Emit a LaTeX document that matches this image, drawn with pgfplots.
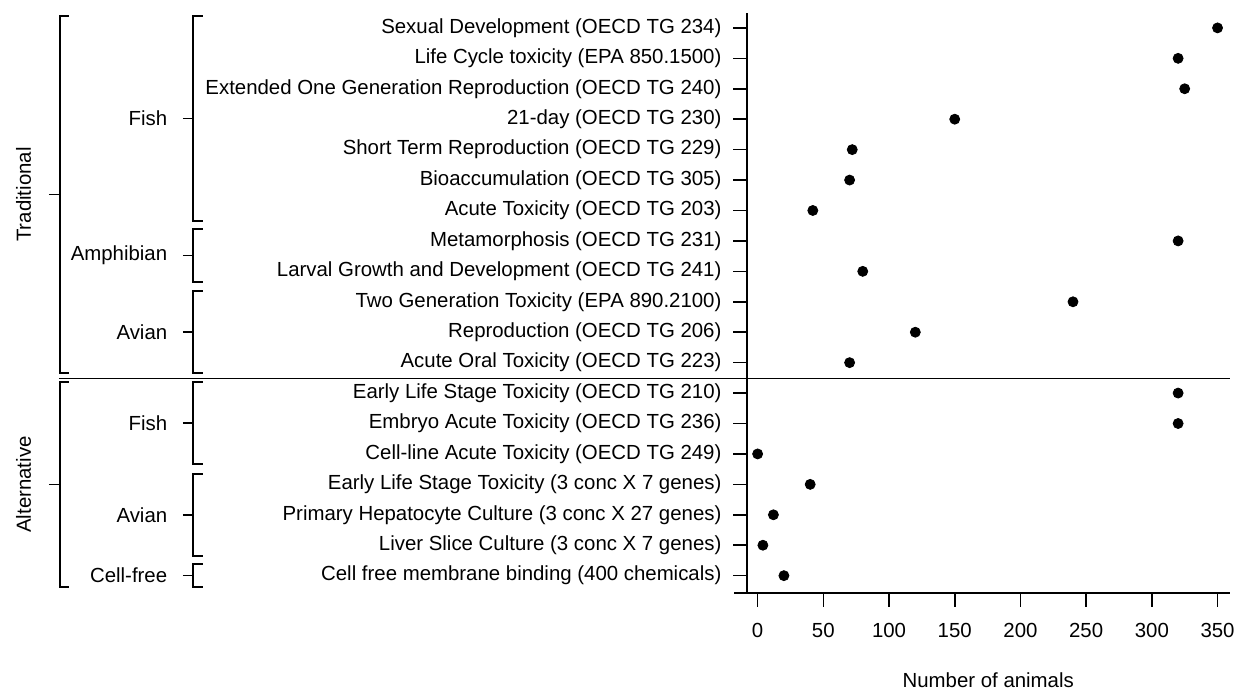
\documentclass[border=0pt]{standalone}
\usepackage{fontspec}
\setmainfont{Liberation Sans}
\usepackage{pgfplots}
\pgfplotsset{compat=1.18}
\begin{document}
\begin{tikzpicture}
\begin{axis}[
 scale only axis, width=241.25pt, height=290pt,
 xmin=-8.1, xmax=359.1, ymin=0.43, ymax=19.49,
 axis x line*=bottom, axis y line*=left,
 axis line style={line width=0.8pt, black},
 xtick={0,50,...,350}, ytick={1,...,19},
 yticklabels={Cell free membrane binding (400 chemicals),
 Liver Slice Culture (3 conc X 7 genes),
 Primary Hepatocyte Culture (3 conc X 27 genes),
 Early Life Stage Toxicity (3 conc X 7 genes),
 Cell-line Acute Toxicity (OECD TG 249),
 Embryo Acute Toxicity (OECD TG 236),
 Early Life Stage Toxicity (OECD TG 210),
 Acute Oral Toxicity (OECD TG 223),
 Reproduction (OECD TG 206),
 Two Generation Toxicity (EPA 890.2100),
 Larval Growth and Development (OECD TG 241),
 Metamorphosis (OECD TG 231),
 Acute Toxicity (OECD TG 203),
 Bioaccumulation (OECD TG 305),
 Short Term Reproduction (OECD TG 229),
 21-day (OECD TG 230),
 Extended One Generation Reproduction (OECD TG 240),
 Life Cycle toxicity (EPA 850.1500),
 Sexual Development (OECD TG 234)},
 tick align=outside, major tick length=6.75pt,
 tick style={line width=0.8pt, black},
 ticklabel style={font=\fontsize{10.2}{12}\selectfont},
 yticklabel style={anchor=east, xshift=-2.5pt},
 xticklabel style={yshift=-5pt},
 /pgf/number format/assume math mode=true,
 xlabel={Number of animals},
 xlabel style={font=\fontsize{10.2}{12}\selectfont, at={(axis description cs:0.5,-0.15)}, anchor=center},
 clip=false,
]
\addplot[only marks, mark=*, mark size=2.5pt, black] table {
x y
350 19
320 18
325 17
150 16
72 15
70 14
42 13
320 12
80 11
240 10
120 9
70 8
320 7
320 6
0 5
40 4
12 3
4 2
20 1
};
\end{axis}
\begin{scope}[shift={(-373.5pt,296.5pt)}, x=0.5pt, y=-0.5pt, line width=0.8pt, black]
 % separator and bottom-axis extension
 \draw (59,378.5) -- (1229.5,378.5);
 \draw (734,593) -- (747,593);
 % group brackets
 \draw (69,16) -- (60,16) -- (60,373) -- (69,373);
 \draw (49,194.5) -- (60,194.5);
 \draw (69,382) -- (60,382) -- (60,587) -- (69,587);
 \draw (49,484.5) -- (60,484.5);
 % subgroup brackets
 \foreach \a/\b in {16/221,229/282,291/373,382/464,474/556,564/587}{
   \draw (203,\a) -- (193,\a) -- (193,\b) -- (203,\b);
   \draw (183,{(\a+\b)/2}) -- (193,{(\a+\b)/2});
 }
 \begin{scope}[font=\fontsize{10.2}{12}\selectfont]
 \node[anchor=east, inner sep=0pt] at (168,118.5) {Fish};
 \node[anchor=east, inner sep=0pt] at (168,255.5) {Amphibian};
 \node[anchor=east, inner sep=0pt] at (168,332) {Avian};
 \node[anchor=east, inner sep=0pt] at (168,423) {Fish};
 \node[anchor=east, inner sep=0pt] at (168,515) {Avian};
 \node[anchor=east, inner sep=0pt] at (168,575.5) {Cell-free};
 \node[rotate=90, inner sep=0pt] at (23.5,194.5) {Traditional};
 \node[rotate=90, inner sep=0pt] at (23.5,484.5) {Alternative};
 \end{scope}
\end{scope}
\pgfresetboundingbox
\path[use as bounding box] (-373.5pt,296.5pt) rectangle (247pt,-48.5pt);
\end{tikzpicture}
\end{document}
